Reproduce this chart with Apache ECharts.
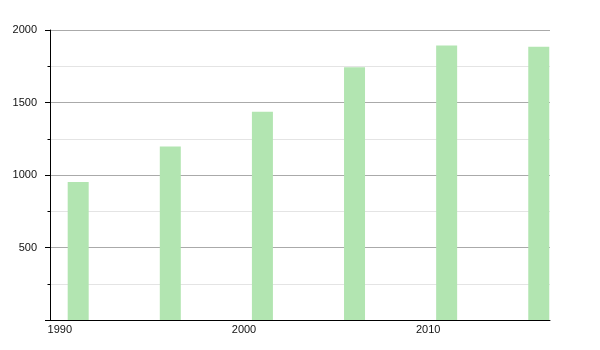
<!DOCTYPE html>
<html>
<head>
<meta charset="utf-8">
<script src="https://cdn.jsdelivr.net/npm/echarts@6/dist/echarts.min.js"></script>
<style>
html,body{margin:0;padding:0;background:#fff;}
#chart{width:600px;height:350px;}
</style>
</head>
<body>
<div id="chart"></div>
<script>
const years = [1991, 1996, 2001, 2006, 2011, 2016];
const population = [951, 1196, 1437, 1743, 1893, 1884];
const xTickLabels = [1990, 2000, 2010];
const yTicks = [0, 500, 1000, 1500, 2000];

const chart = echarts.init(document.getElementById('chart'), null, {renderer: 'canvas'});
const font = '"Liberation Sans", Arial, sans-serif';
chart.setOption({
  animation: false,
  grid: {left: 50, right: 50, top: 30, bottom: 30, containLabel: false},
  xAxis: {
    type: 'value',
    min: 1989.47,
    max: 2016.61,
    axisLine: {show: true, onZero: false, lineStyle: {color: '#000', width: 1}},
    axisTick: {show: false},
    splitLine: {show: false},
    axisLabel: {
      customValues: xTickLabels,
      margin: 4,
      color: '#111',
      fontSize: 11,
      fontFamily: font,
      formatter: v => String(v)
    }
  },
  yAxis: {
    type: 'value',
    min: yTicks[0],
    max: yTicks[yTicks.length - 1],
    interval: 500,
    axisLine: {show: true, lineStyle: {color: '#000', width: 1}},
    axisTick: {show: true, length: 5, lineStyle: {color: '#000'}},
    minorTick: {show: true, splitNumber: 2, length: 2.5, lineStyle: {color: '#000'}},
    splitLine: {show: true, lineStyle: {color: '#aaaaaa', width: 1}},
    minorSplitLine: {show: true, lineStyle: {color: '#e4e4e4', width: 1}},
    axisLabel: {
      margin: 13,
      color: '#111',
      fontSize: 11,
      fontFamily: font,
      formatter: v => (v === 0 ? '' : String(v))
    }
  },
  series: [{
    type: 'bar',
    barWidth: 21,
    itemStyle: {color: '#b2e5b1'},
    data: years.map((y, i) => [y, population[i]])
  }]
});
</script>
</body>
</html>
